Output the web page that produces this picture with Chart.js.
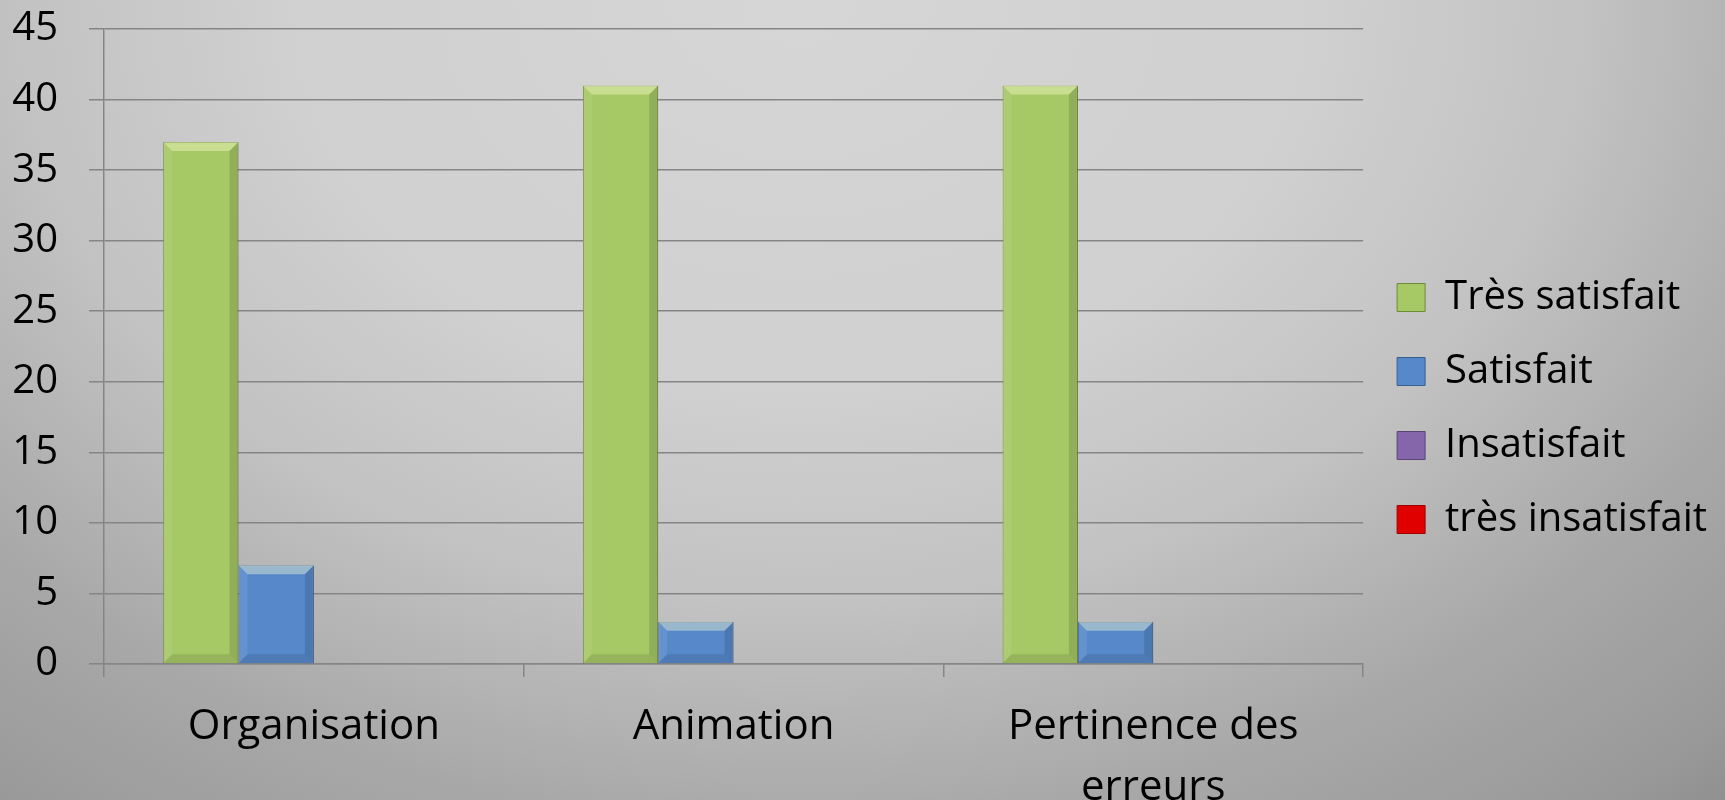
<!DOCTYPE html>
<html>
<head>
<meta charset="utf-8">
<script src="https://cdn.jsdelivr.net/npm/chart.js@4.4.0/dist/chart.umd.min.js"></script>
<style>
  html, body { margin: 0; padding: 0; }
  #wrap { width: 1725px; height: 800px; }
</style>
</head>
<body>
<div id="wrap"><canvas id="chart" width="1725" height="800"></canvas></div>
<script>
// === Données ===
const categories = ["Organisation", "Animation", ["Pertinence des", "erreurs"]];
const tresSatisfait = [37, 41, 41];
const satisfait = [7, 3, 3];
const insatisfait = [0, 0, 0];
const tresInsatisfait = [0, 0, 0];
const yTicks = [0, 5, 10, 15, 20, 25, 30, 35, 40, 45];

// fond gris dégradé (elliptique, clair en haut)
const fondPlugin = {
  id: "fond",
  beforeDraw(chart) {
    const ctx = chart.ctx;
    ctx.save();
    ctx.translate(800, 0);
    ctx.scale(1, 1000 / 1300);
    const g = ctx.createRadialGradient(0, 0, 0, 0, 0, 1430);
    g.addColorStop(0, "#d6d6d6");
    g.addColorStop(0.36, "#d0d0d0");
    g.addColorStop(0.55, "#c2c2c2");
    g.addColorStop(0.75, "#a8a8a8");
    g.addColorStop(0.91, "#9a9a9a");
    g.addColorStop(1, "#8c8c8c");
    ctx.fillStyle = g;
    ctx.fillRect(-900, -100, 2800, 1300);
    ctx.restore();
  }
};

// légende un peu remontée
const legendePlugin = {
  id: "legende",
  afterLayout(chart) {
    if (chart.legend) {
      chart.legend.top -= 6;
      chart.legend.bottom -= 6;
    }
  }
};

// effet biseau sur les barres
const biseauPlugin = {
  id: "biseau",
  afterDatasetsDraw(chart) {
    const ctx = chart.ctx;
    chart.data.datasets.forEach((ds, i) => {
      const meta = chart.getDatasetMeta(i);
      meta.data.forEach(el => {
        const p = el.getProps(["x", "y", "base", "width"], true);
        const l = p.x - p.width / 2, r = p.x + p.width / 2;
        const t = Math.min(p.y, p.base), b = Math.max(p.y, p.base);
        if (b - t < 2) return;
        const s = Math.min(9, (b - t) / 2);
        const face = (pts, color) => {
          ctx.beginPath();
          ctx.moveTo(pts[0][0], pts[0][1]);
          for (let k = 1; k < pts.length; k++) ctx.lineTo(pts[k][0], pts[k][1]);
          ctx.closePath();
          ctx.fillStyle = color;
          ctx.fill();
        };
        ctx.save();
        face([[l, t], [r, t], [r - s, t + s], [l + s, t + s]], "rgba(255,255,210,0.40)");
        face([[l, b], [r, b], [r - s, b - s], [l + s, b - s]], "rgba(0,0,0,0.10)");
        face([[l, t], [l + s, t + s], [l + s, b - s], [l, b]], "rgba(255,255,255,0.08)");
        face([[r, t], [r - s, t + s], [r - s, b - s], [r, b]], "rgba(0,0,0,0.12)");
        ctx.restore();
      });
    });
  }
};

const police = { family: "'Open Sans', sans-serif", size: 40 };

new Chart(document.getElementById("chart").getContext("2d"), {
  type: "bar",
  data: {
    labels: categories,
    datasets: [
      { label: "Très satisfait", data: tresSatisfait, backgroundColor: "#a6c865", borderColor: "#6e8c37", borderWidth: 1 },
      { label: "Satisfait", data: satisfait, backgroundColor: "#5789ca", borderColor: "#385f92", borderWidth: 1 },
      { label: "Insatisfait", data: insatisfait, backgroundColor: "#8566aa", borderColor: "#5c447a", borderWidth: 1 },
      { label: "très insatisfait", data: tresInsatisfait, backgroundColor: "#e00000", borderColor: "#a00000", borderWidth: 1 }
    ]
  },
  options: {
    responsive: false,
    animation: false,
    devicePixelRatio: 1,
    layout: { padding: { left: 0, top: 29, right: 8, bottom: 0 } },
    datasets: { bar: { categoryPercentage: 0.718, barPercentage: 1 } },
    scales: {
      x: {
        grid: { drawOnChartArea: false, color: "#858585", lineWidth: 1.5, tickLength: 13, offset: true },
        border: { color: "#858585", width: 1.5 },
        ticks: { color: "#000", font: { ...police, size: 42, lineHeight: 1.45 }, padding: 20, maxRotation: 0, autoSkip: false },
        afterFit(scale) {
          scale.height = 136;
          scale.paddingLeft = 0;
          scale.paddingRight = 0;
        }
      },
      y: {
        min: 0,
        max: 45,
        afterBuildTicks(scale) { scale.ticks = yTicks.map(v => ({ value: v })); },
        grid: { color: "#858585", lineWidth: 1.5, tickLength: 15 },
        border: { color: "#858585", width: 1.5 },
        ticks: { color: "#000", font: police, padding: 31 },
        afterFit(scale) {
          scale.width = 104;
          scale.paddingTop = 0;
          scale.paddingBottom = 0;
        }
      }
    },
    plugins: {
      legend: {
        position: "right",
        labels: { color: "#000", font: police, boxWidth: 28, boxHeight: 28, padding: 34 }
      },
      tooltip: { enabled: false }
    }
  },
  plugins: [fondPlugin, legendePlugin, biseauPlugin]
});
</script>
</body>
</html>
